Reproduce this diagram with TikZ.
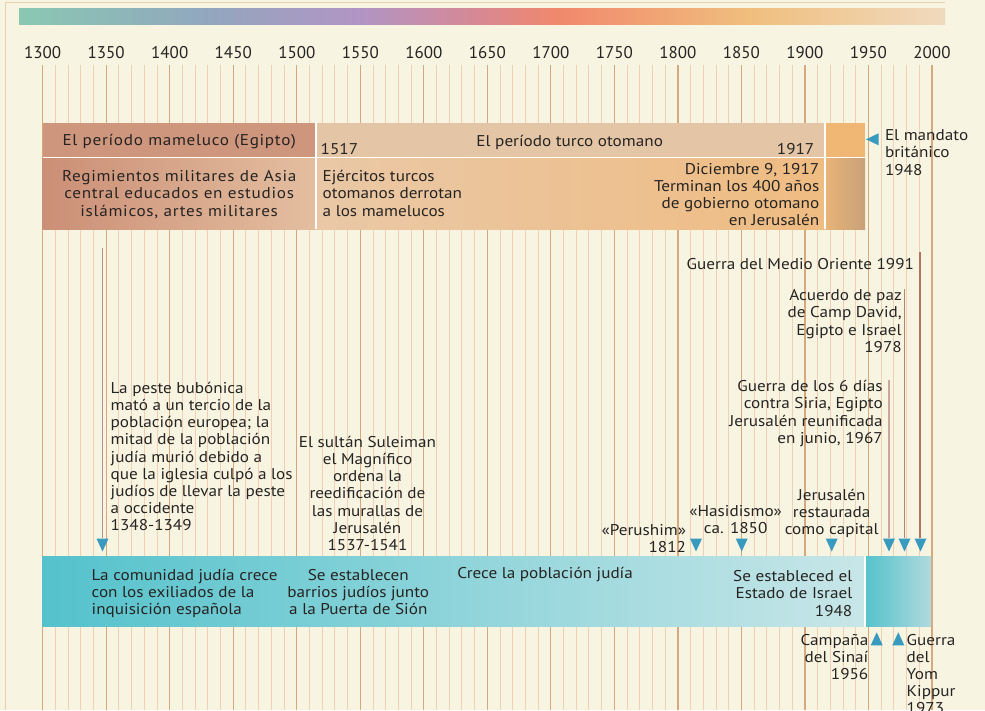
\documentclass[tikz,border=0pt]{standalone}
\usepackage{fontspec}
\setmainfont[FakeStretch=1.1]{PT Sans}
\newfontfamily\yearfont{PT Sans}
\definecolor{bg}{RGB}{247,245,226}
\definecolor{frame}{RGB}{236,206,176}
\definecolor{tickmaj}{RGB}{214,168,124}
\definecolor{tickmin}{RGB}{240,207,178}
\definecolor{txt}{RGB}{38,36,34}
\definecolor{g1}{RGB}{138,200,178}
\definecolor{g2}{RGB}{145,168,190}
\definecolor{g3}{RGB}{178,148,196}
\definecolor{g4}{RGB}{216,136,146}
\definecolor{g5}{RGB}{241,136,108}
\definecolor{g6}{RGB}{240,190,125}
\definecolor{g7}{RGB}{240,218,190}
\definecolor{mamA}{RGB}{205,150,125}
\definecolor{mamB1}{RGB}{203,143,118}
\definecolor{mamB2}{RGB}{228,190,160}
\definecolor{otA}{RGB}{228,198,166}
\definecolor{otB1}{RGB}{234,200,166}
\definecolor{otB2}{RGB}{239,188,130}
\definecolor{manA}{RGB}{240,182,115}
\definecolor{manB1}{RGB}{232,180,120}
\definecolor{manB2}{RGB}{200,160,120}
\definecolor{jA1}{RGB}{84,194,204}
\definecolor{jA2}{RGB}{200,230,232}
\definecolor{jB2}{RGB}{176,218,222}
\definecolor{tri}{RGB}{56,154,190}
\definecolor{lnA}{RGB}{184,142,132}
\definecolor{lnB}{RGB}{204,166,156}
\definecolor{lnC}{RGB}{188,130,112}
\definecolor{lnD}{RGB}{176,116,98}
\newcommand{\blkL}[1]{\begin{tabular}[t]{@{}l@{}}#1\end{tabular}}
\newcommand{\blkC}[1]{\begin{tabular}[t]{@{}c@{}}#1\end{tabular}}
\newcommand{\blkR}[1]{\begin{tabular}[t]{@{}r@{}}#1\end{tabular}}
\tikzset{
  lbl/.style={inner sep=0pt, outer sep=0pt, text=txt, font=\fontsize{15.6}{17.2}\selectfont},
  widelbl/.style={lbl, font=\fontsize{15.6}{17.2}\selectfont\addfontfeature{LetterSpace=4.5}},
  yearlbl/.style={inner sep=0pt, text=txt, font=\yearfont\fontsize{17}{17}\selectfont, anchor=base},
  evline/.style={line width=1.3pt},
  sepline/.style={white, line width=1.3pt},
}
\newcommand{\downtri}[2]{\fill[tri] (#1-6,#2) -- (#1+6,#2) -- (#1,#2+13) -- cycle;}
\newcommand{\uptri}[2]{\fill[tri] (#1-6,#2+13) -- (#1+6,#2+13) -- (#1,#2) -- cycle;}
\begin{document}
\begin{tikzpicture}[x=1pt,y=-1pt]
\useasboundingbox (0,0) rectangle (985,710);
\fill[bg] (0,0) rectangle (985,710);
% frame
\draw[frame, line width=0.8pt] (5,710) -- (5,2.5) -- (945,2.5);
% gradient bar
\shade[left color=g1, right color=g2] (19,8) rectangle (200.5,24);
\shade[left color=g2, right color=g3] (200,8) rectangle (363.5,24);
\shade[left color=g3, right color=g4] (363,8) rectangle (480.5,24);
\shade[left color=g4, right color=g5] (480,8) rectangle (557.5,24);
\shade[left color=g5, right color=g6] (557,8) rectangle (747.5,24);
\shade[left color=g6, right color=g7] (747,8) rectangle (945,24);
% ticks
\foreach \i in {0,...,70}{
  \pgfmathsetmacro\xx{42.7+\i*12.704}
  \pgfmathtruncatemacro\mm{mod(\i,5)}
  \ifnum\mm=0
    \draw[tickmaj, line width=1.2pt] (\xx,65) -- (\xx,710);
  \else
    \draw[tickmin, line width=1pt] (\xx,65) -- (\xx,710);
  \fi
}
% year labels
\foreach \i/\yr in {0/1300,1/1350,2/1400,3/1450,4/1500,5/1550,6/1600,7/1650,8/1700,9/1750,10/1800,11/1850,12/1900,13/1950,14/2000}{
  \node[yearlbl] (y\yr) at (42.7+\i*63.52,58.3) {\yr};
}
% top band
\fill[mamA] (42.7,122.7) rectangle (316,157.7);
\fill[otA] (316,122.7) rectangle (825,157.7);
\fill[manA] (825,122.7) rectangle (865,157.7);
\shade[left color=mamB1, right color=mamB2] (42.7,157.7) rectangle (316,229);
\shade[left color=otB1, right color=otB2] (316,157.7) rectangle (825,229);
\shade[left color=manB1, right color=manB2] (825,157.7) rectangle (865,229);
\draw[sepline] (42.7,157.7) -- (865,157.7);
\draw[sepline] (316,122.7) -- (316,229);
\draw[sepline] (825,122.7) -- (825,229);
\node[widelbl, anchor=base] (mam) at (179.2,145.7) {El período mameluco (Egipto)};
\node[lbl, anchor=base west] (y1517) at (320.7,154.5) {1517};
\node[lbl, anchor=base] (otto) at (569.7,146) {El período turco otomano};
\node[lbl, anchor=base east] (y1917) at (814.3,154.3) {1917};
\node[widelbl, anchor=base] (regim) at (179.2,181.7) {\blkC{Regimientos militares de Asia\\central educados en estudios\\islámicos, artes militares}};
\node[lbl, anchor=base west] (ejer) at (322.7,181.7) {\blkL{Ejércitos turcos\\otomanos derrotan\\a los mamelucos}};
\node[lbl, anchor=base east] (dic) at (819.3,174.3) {\blkR{Diciembre 9, 1917\\Terminan los 400 años\\de gobierno otomano\\en Jerusalén}};
\fill[tri] (866,139.3) -- (878.5,133.3) -- (878.5,145.3) -- cycle;
\node[lbl, anchor=base west] (mandato) at (885,140.7) {\blkL{El mandato\\británico\\1948}};
% event lines in the middle
\draw[evline, lnA] (102.5,248) -- (102.5,538);
\draw[evline, lnB] (889,380) -- (889,538);
\draw[evline, lnC] (904.5,289) -- (904.5,538);
\draw[evline, lnD] (920,252) -- (920,538);
\downtri{102.5}{538.5}
\downtri{696}{538.5}
\downtri{741.7}{538.5}
\downtri{831.7}{538.5}
\downtri{889}{538.5}
\downtri{904.5}{538.5}
\downtri{920.5}{538.5}
\node[lbl, anchor=base west] (peste) at (110.7,393.3) {\blkL{La peste bubónica\\mató a un tercio de la\\población europea; la\\mitad de la población\\judía murió debido a\\que la iglesia culpó a los\\judíos de llevar la peste\\a occidente\\1348-1349}};
\node[lbl, anchor=base] (sultan) at (367.5,447.3) {\blkC{El sultán Suleiman\\el Magnífico\\ordena la\\reedificación de\\las murallas de\\Jerusalén\\1537-1541}};
\node[lbl, anchor=base east] (guerra91) at (914,269) {Guerra del Medio Oriente 1991};
\node[lbl, anchor=base east] (camp) at (901.7,300.7) {\blkR{Acuerdo de paz\\de Camp David,\\Egipto e Israel\\1978}};
\node[lbl, anchor=base east] (seis) at (882.7,391.7) {\blkR{Guerra de los 6 días\\contra Siria, Egipto\\Jerusalén reunificada\\en junio, 1967}};
\node[lbl, anchor=base] (capital) at (831.7,500) {\blkC{Jerusalén\\restaurada\\como capital}};
\node[lbl, anchor=base] (hasid) at (735.7,516.7) {\blkC{«Hasidismo»\\ca. 1850}};
\node[lbl, anchor=base east] (perush) at (686,535) {\blkR{«Perushim»\\1812}};
% bottom band
\shade[left color=jA1, right color=jA2] (42.7,556) rectangle (865,626.7);
\shade[left color=jA1, right color=jB2] (865,556) rectangle (931,626.7);
\draw[sepline] (865,556) -- (865,626.7);
\node[lbl, anchor=base west] (comun) at (91.7,580) {\blkL{La comunidad judía crece\\con los exiliados de la\\inquisición española}};
\node[lbl, anchor=base] (barrios) at (358.3,580) {\blkC{Se establecen\\barrios judíos junto\\a la Puerta de Sión}};
\node[lbl, anchor=base west] (crece) at (457.3,578.3) {Crece la población judía};
\node[lbl, anchor=base east] (estado) at (852.3,581.7) {\blkR{Se estableced el\\Estado de Israel\\1948}};
\uptri{876.7}{632.3}
\uptri{898.3}{632.3}
\node[lbl, anchor=base east] (sinai) at (868.3,645) {\blkR{Campaña\\del Sinaí\\1956}};
\node[lbl, anchor=base west] (yom) at (906.7,645) {\blkL{Guerra\\del\\Yom\\Kippur\\1973}};
\end{tikzpicture}
\end{document}
